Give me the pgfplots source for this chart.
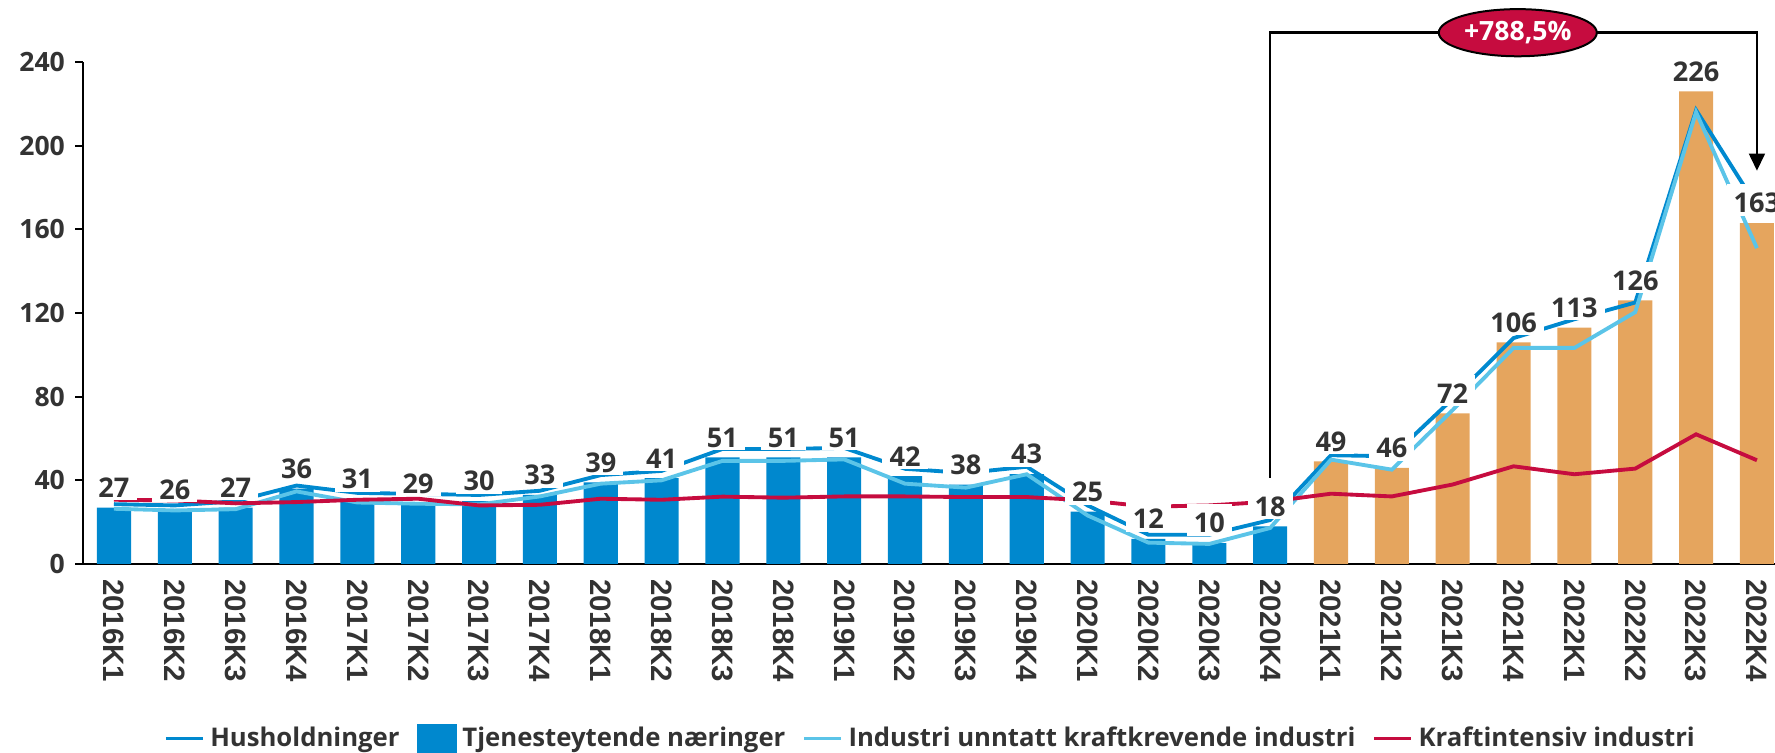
\documentclass[border=0pt]{standalone}
\usepackage{fontspec}
\setmainfont{Open Sans}
\newfontfamily\arialf{Liberation Sans}
\usepackage{pgfplots}
\usepackage{pgfplotstable}
\pgfplotsset{compat=1.18}
\usetikzlibrary{arrows.meta,shapes.geometric}
\definecolor{hhblue}{HTML}{0089CF}
\definecolor{tjblue}{HTML}{0088CE}
\definecolor{orng}{HTML}{E5A55E}
\definecolor{ltblue}{HTML}{5BC4E8}
\definecolor{krred}{HTML}{C60C3F}
\definecolor{txt}{HTML}{333333}

% bars: Tjenesteytende naeringer
\pgfplotstableread{
x y
0 27
1 26
2 27
3 36
4 31
5 29
6 30
7 33
8 39
9 41
10 51
11 51
12 51
13 42
14 38
15 43
16 25
17 12
18 10
19 18
}\barsA
\pgfplotstableread{
x y
20 49
21 46
22 72
23 106
24 113
25 126
26 226
27 163
}\barsB
\pgfplotstableread{
x y
0 27
1 26
2 27
3 36
4 31
5 29
6 30
7 33
8 39
9 41
10 51
11 51
12 51
13 42
14 38
15 43
16 25
17 12
18 10
19 18
20 49
21 46
22 72
23 106
24 113
25 126
26 226
27 163
}\labs
% Husholdninger
\pgfplotstableread{
x y
0 28.6
1 28
2 30
3 37.5
4 34
5 33.5
6 33
7 35
8 42.5
9 44.5
10 55
11 55
12 55.5
13 45.5
14 43.5
15 46.5
16 28
17 14
18 14
19 21
20 52
21 51.5
22 79
23 108
24 117
25 125
26 217
27 171
}\hush
% Industri unntatt kraftkrevende industri
\pgfplotstableread{
x y
0 26.4
1 25.6
2 26.2
3 34.7
4 29.4
5 28.8
6 28.5
7 32.3
8 38.4
9 40
10 49.3
11 49.3
12 50
13 38.4
14 36.5
15 42.9
16 23.2
17 10.2
18 9.6
19 17.2
20 49.9
21 45.1
22 73.6
23 103.3
24 103.3
25 120.4
26 216
27 151
}\indu
% Kraftintensiv industri
\pgfplotstableread{
x y
0 30.7
1 30.4
2 29
3 29.6
4 30.7
5 31.2
6 28
7 28.3
8 31.2
9 30.7
10 32.2
11 31.7
12 32.3
13 32.3
14 32
15 32
16 30.4
17 27.4
18 28
19 29.8
20 33.6
21 32.3
22 38
23 46.7
24 42.9
25 45.6
26 62
27 49.6
}\kraft

\begin{document}
\begin{tikzpicture}
\begin{axis}[
  scale only axis,
  width=592.2pt, height=175.7pt,
  xmin=-0.509, xmax=27.297,
  ymin=0, ymax=240,
  clip=false,
  axis x line*=bottom, axis y line*=left,
  axis line style={black, line width=0.75pt},
  ytick={0,40,...,240},
  xtick={0,...,27},
  xticklabels={2016K1,2016K2,2016K3,2016K4,2017K1,2017K2,2017K3,2017K4,2018K1,2018K2,2018K3,2018K4,2019K1,2019K2,2019K3,2019K4,2020K1,2020K2,2020K3,2020K4,2021K1,2021K2,2021K3,2021K4,2022K1,2022K2,2022K3,2022K4},
  x tick style={draw=none},
  y tick style={black, line width=0.75pt},
  tick align=outside,
  major tick length=2.8pt,
  /pgf/number format/assume math mode=true,
  xticklabel style={rotate=-90, anchor=west, xshift=-1pt, font=\arialf\bfseries\fontsize{10.3}{12}\selectfont, text=txt},
  yticklabel style={font=\bfseries\fontsize{9.3}{11}\selectfont, text=txt},
  legend columns=4,
  legend style={draw=none, fill=none, at={(axis cs:13.45,-83.4)}, anchor=center,
    font=\bfseries\fontsize{9}{11}\selectfont, text=txt,
    /tikz/every even column/.append style={column sep=4pt}},
]
\addplot[ybar, bar width=0.56, bar shift=0pt, fill=tjblue, draw=none, forget plot] table {\barsA};
\addplot[ybar, bar width=0.56, bar shift=0pt, fill=orng, draw=none, forget plot] table {\barsB};
\addplot[sharp plot, hhblue, line width=1.35pt, mark=none, forget plot] table {\hush};
\addplot[sharp plot, ltblue, line width=1.35pt, mark=none, forget plot] table {\indu};
\addplot[sharp plot, krred, line width=1.35pt, mark=none, forget plot] table {\kraft};
\addplot[sharp plot, draw=none, mark=none, forget plot,
  nodes near coords,
  every node near coord/.append style={fill=white, text=txt, inner xsep=2.5pt, inner ysep=1pt,
    text height=0.9em, anchor=south, yshift=2.3pt, font=\bfseries\fontsize{9.5}{11}\selectfont}] table {\labs};

\addlegendimage{legend image code/.code={\draw[hhblue, line width=1.1pt] (0pt,0pt) -- (13pt,0pt);}}
\addlegendentry{Husholdninger}
\addlegendimage{legend image code/.code={\fill[tjblue] (0pt,-5pt) rectangle (13.6pt,5pt);}}
\addlegendentry{Tjenesteytende næringer}
\addlegendimage{legend image code/.code={\draw[ltblue, line width=1.1pt] (0pt,0pt) -- (13pt,0pt);}}
\addlegendentry{Industri unntatt kraftkrevende industri}
\addlegendimage{legend image code/.code={\draw[krred, line width=1.1pt] (0pt,0pt) -- (13pt,0pt);}}
\addlegendentry{Kraftintensiv industri}

\draw[black, line width=0.9pt, -{Triangle[width=5.5pt,length=6pt]}]
  (axis cs:19,41.3) -- (axis cs:19,254) -- (axis cs:27,254) -- (axis cs:27,188);
\node[ellipse, fill=krred, draw=black, line width=0.7pt, inner sep=0pt,
  minimum width=55.3pt, minimum height=16.5pt, text=white,
  font=\bfseries\fontsize{9.3}{11}\selectfont] at (axis cs:23.07,254) {+788,5\%};

\coordinate (BL) at (rel axis cs:0,0);
\coordinate (TR) at (rel axis cs:1,1);
\end{axis}
\pgfresetboundingbox
\path[use as bounding box] ([xshift=-29.05pt, yshift=-66.15pt]BL) rectangle ([yshift=21.7pt]TR);
\end{tikzpicture}
\end{document}
